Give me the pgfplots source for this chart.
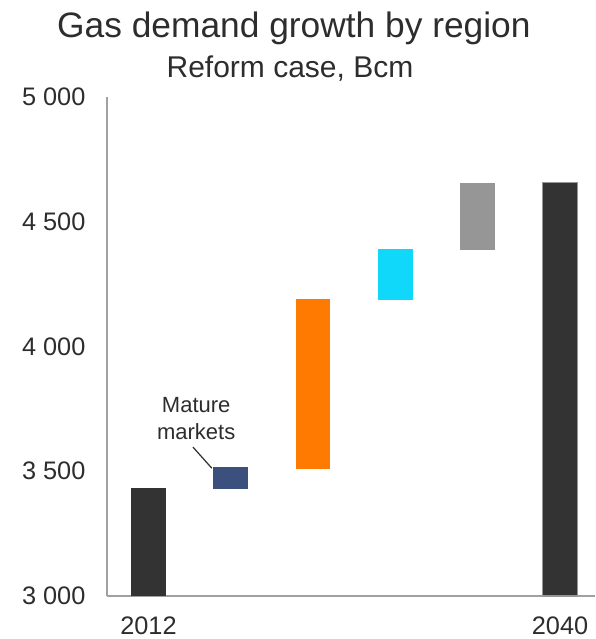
\documentclass[border=0pt]{standalone}
\usepackage{fontspec}
\setmainfont{Liberation Sans}
\usepackage{pgfplots}
\pgfplotsset{compat=1.18}

\definecolor{colDark}{RGB}{51,51,51}
\definecolor{colNavy}{RGB}{60,80,125}
\definecolor{colOrange}{RGB}{255,122,0}
\definecolor{colCyan}{RGB}{16,216,250}
\definecolor{colGrey}{RGB}{150,150,150}
\definecolor{colAxis}{RGB}{160,160,160}
\definecolor{colText}{RGB}{45,45,45}

\pgfplotsset{
  frame/.style={
    scale only axis,
    width=366pt, height=374.25pt,
    xmin=-0.504, xmax=5.425,
    ymin=3000, ymax=5000,
    bar width=26pt,
  },
}

\begin{document}
\begin{tikzpicture}
% totals, drawn from the horizontal axis
\begin{axis}[
    frame,
    ybar, bar shift=0pt,
    axis x line=bottom, axis y line=left,
    axis line style={colAxis, line width=0.9pt, -},
    tick style={draw=none},
    xtick={0,5}, xticklabels={2012,2040},
    ytick={3000,3500,4000,4500,5000},
    yticklabels={3 000,3 500,4 000,4 500,5 000},
    ticklabel style={font=\fontsize{19}{22}\selectfont, text=colText},
    yticklabel style={xshift=-10.5pt},
    xticklabel style={yshift=-10pt},
    clip=false,
]
\addplot[fill=colDark, draw=none] coordinates {(0,3432)};
\addplot[fill=colDark, draw=colGrey, line width=0.8pt] coordinates {(5,4657)};

\coordinate (ll) at (rel axis cs:0,0);

\node[anchor=base, font=\fontsize{26.5}{30}\selectfont, text=colText]
  at ([yshift=44.25pt]rel axis cs:0.383,1) {Gas demand growth by region};
\node[anchor=base, font=\fontsize{22.5}{26}\selectfont, text=colText]
  at ([yshift=14.25pt]rel axis cs:0.375,1) {Reform case, Bcm};

\node[align=center, font=\fontsize{16.5}{20.5}\selectfont, text=colText, inner sep=0pt]
  at (axis cs:0.58,3712) {Mature\\markets};
\draw[colText, line width=0.9pt] (axis cs:0.54,3597) -- (axis cs:0.77,3512);
\end{axis}

% floating steps of the waterfall
\begin{axis}[
    frame,
    ybar stacked, bar shift=0pt,
    hide axis,
]
\addplot[draw=none, fill=none] coordinates {(1,3430)(2,3509)(3,4186)(4,4387)};
\addplot[fill=colNavy, draw=none] coordinates {(1,87)(2,0)(3,0)(4,0)};
\addplot[fill=colOrange, draw=none] coordinates {(1,0)(2,683)(3,0)(4,0)};
\addplot[fill=colCyan, draw=none] coordinates {(1,0)(2,0)(3,205)(4,0)};
\addplot[fill=colGrey, draw=none] coordinates {(1,0)(2,0)(3,0)(4,270)};
\end{axis}

\pgfresetboundingbox
\path[use as bounding box] (ll) ++(-80.25pt,-32.25pt) rectangle ++(447pt,479.25pt);
\end{tikzpicture}
\end{document}
